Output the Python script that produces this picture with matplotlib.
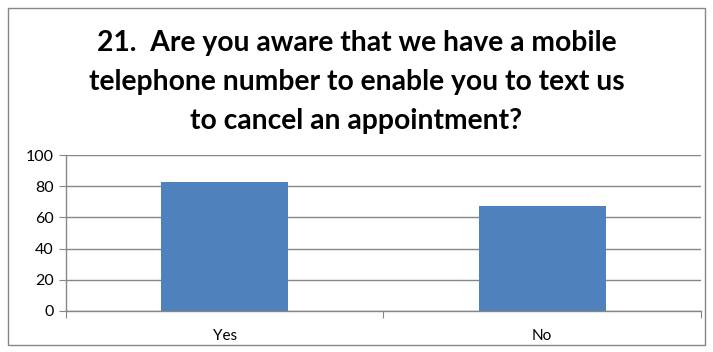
import matplotlib
matplotlib.use("Agg")
import matplotlib.pyplot as plt
from matplotlib.patches import Rectangle

categories = ["Yes", "No"]
values = [83, 67]
yticks = [0, 20, 40, 60, 80, 100]
title = "21.  Are you aware that we have a mobile\ntelephone number to enable you to text us\nto cancel an appointment?"

fig = plt.figure(figsize=(7.13, 3.52), dpi=100)
fig.patch.set_facecolor("white")
fig.add_artist(Rectangle((8/713, 1-345/352), (705-8)/713, (345-8)/352,
                         transform=fig.transFigure, fill=False,
                         edgecolor="#868686", linewidth=1.0))

ax = fig.add_axes([66/713, 1-311/352, (701-66)/713, (311-155)/352])
x = list(range(len(categories)))
ax.bar(x, values, width=0.4, color="#4F81BD", zorder=3)
ax.set_xlim(-0.5, len(categories)-0.5)
ax.set_ylim(0, 100)
ax.set_yticks(yticks)
ax.set_yticklabels([str(t) for t in yticks], fontsize=11.5, family="Lato")
ax.yaxis.grid(True, color="#868686", linewidth=1.0, zorder=0)
ax.set_xticks([-0.5, 0.5, 1.5])
ax.set_xticklabels([])
ax.set_xticks(x, minor=True)
ax.set_xticklabels(categories, minor=True, fontsize=11, family="Lato")
ax.tick_params(axis="x", which="major", direction="out", length=5, color="#868686")
ax.tick_params(axis="x", which="minor", length=0, pad=13)
ax.tick_params(axis="y", direction="out", length=5, color="#868686", pad=4)
for s in ["top", "right"]:
    ax.spines[s].set_visible(False)
for s in ["left", "bottom"]:
    ax.spines[s].set_color("#868686")
    ax.spines[s].set_linewidth(1.0)
    ax.spines[s].set_zorder(4)

fig.text(0.5, 1-82/352, title, ha="center", va="center", fontsize=20.3,
         fontweight="bold", family="Lato", linespacing=1.6)

fig.savefig("out.png", dpi=100)
